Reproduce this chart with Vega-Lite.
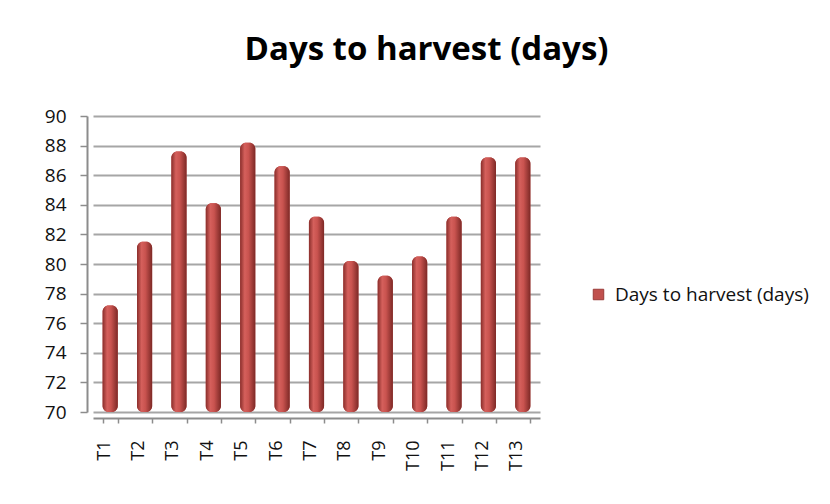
{
  "$schema": "https://vega.github.io/schema/vega-lite/v6.json",
  "autosize": {"type": "none"},
  "padding": {"left": 93, "top": 116, "right": 290, "bottom": 92},
  "width": 447,
  "height": 296,
  "background": "white",
  "config": {"view": {"stroke": null}},
  "title": {"text": "Days to harvest (days)", "font": "Open Sans", "fontSize": 33, "fontWeight": "bold", "color": "#000000", "anchor": "middle", "frame": "group", "dx": 110, "offset": 40},
  "data": {"values": [
    {"treatment": "T1", "days": 77.2, "series": "Days to harvest (days)"},
    {"treatment": "T2", "days": 81.5, "series": "Days to harvest (days)"},
    {"treatment": "T3", "days": 87.6, "series": "Days to harvest (days)"},
    {"treatment": "T4", "days": 84.1, "series": "Days to harvest (days)"},
    {"treatment": "T5", "days": 88.2, "series": "Days to harvest (days)"},
    {"treatment": "T6", "days": 86.6, "series": "Days to harvest (days)"},
    {"treatment": "T7", "days": 83.2, "series": "Days to harvest (days)"},
    {"treatment": "T8", "days": 80.2, "series": "Days to harvest (days)"},
    {"treatment": "T9", "days": 79.2, "series": "Days to harvest (days)"},
    {"treatment": "T10", "days": 80.5, "series": "Days to harvest (days)"},
    {"treatment": "T11", "days": 83.2, "series": "Days to harvest (days)"},
    {"treatment": "T12", "days": 87.2, "series": "Days to harvest (days)"},
    {"treatment": "T13", "days": 87.2, "series": "Days to harvest (days)"}
  ]},
  "encoding": {
    "x": {"field": "treatment", "type": "nominal", "sort": null,
      "scale": {"paddingInner": 0.56, "paddingOuter": 0.28},
      "axis": {"title": null, "labelAngle": 270, "offset": 6, "domainColor": "#8c8c8c", "domainWidth": 2, "tickColor": "#8c8c8c", "tickWidth": 1.5, "tickSize": 5, "tickBand": "extent", "labelPadding": 17, "labelFont": "Open Sans", "labelFontSize": 18, "labelColor": "#111111", "labelOffset": -6}},
    "y": {"field": "days", "type": "quantitative",
      "scale": {"domain": [70, 90], "zero": false, "nice": false},
      "axis": {"title": null, "values": [70, 72, 74, 76, 78, 80, 82, 84, 86, 88, 90], "offset": 6, "grid": true, "gridColor": "#a6a6a6", "gridWidth": 2, "domainColor": "#8c8c8c", "domainWidth": 2, "tickColor": "#8c8c8c", "tickWidth": 1.5, "tickSize": 7, "labelFont": "Open Sans", "labelFontSize": 19, "labelColor": "#111111", "labelPadding": 14}},
    "y2": {"datum": 70}
  },
  "layer": [
    {
      "mark": {"type": "bar", "cornerRadiusEnd": 6},
      "encoding": {
        "color": {"field": "series", "type": "nominal", "scale": {"range": ["#c0504d"]},
          "legend": {"title": null, "orient": "none", "legendX": 496, "legendY": 169, "symbolType": "square", "symbolSize": 110, "symbolStrokeColor": "#9a3b38", "symbolStrokeWidth": 1, "labelFont": "Open Sans", "labelFontSize": 19, "labelColor": "#111111", "labelOffset": 7, "labelLimit": 400}}
      }
    },
    {
      "mark": {"type": "bar", "cornerRadiusEnd": 6,
        "color": {"gradient": "linear", "x1": 0, "y1": 0, "x2": 1, "y2": 0,
          "stops": [
            {"offset": 0, "color": "#8a2e2b"},
            {"offset": 0.3, "color": "#d5605c"},
            {"offset": 0.55, "color": "#c9534f"},
            {"offset": 1, "color": "#7d2926"}
          ]}},
      "encoding": {}
    }
  ]
}
